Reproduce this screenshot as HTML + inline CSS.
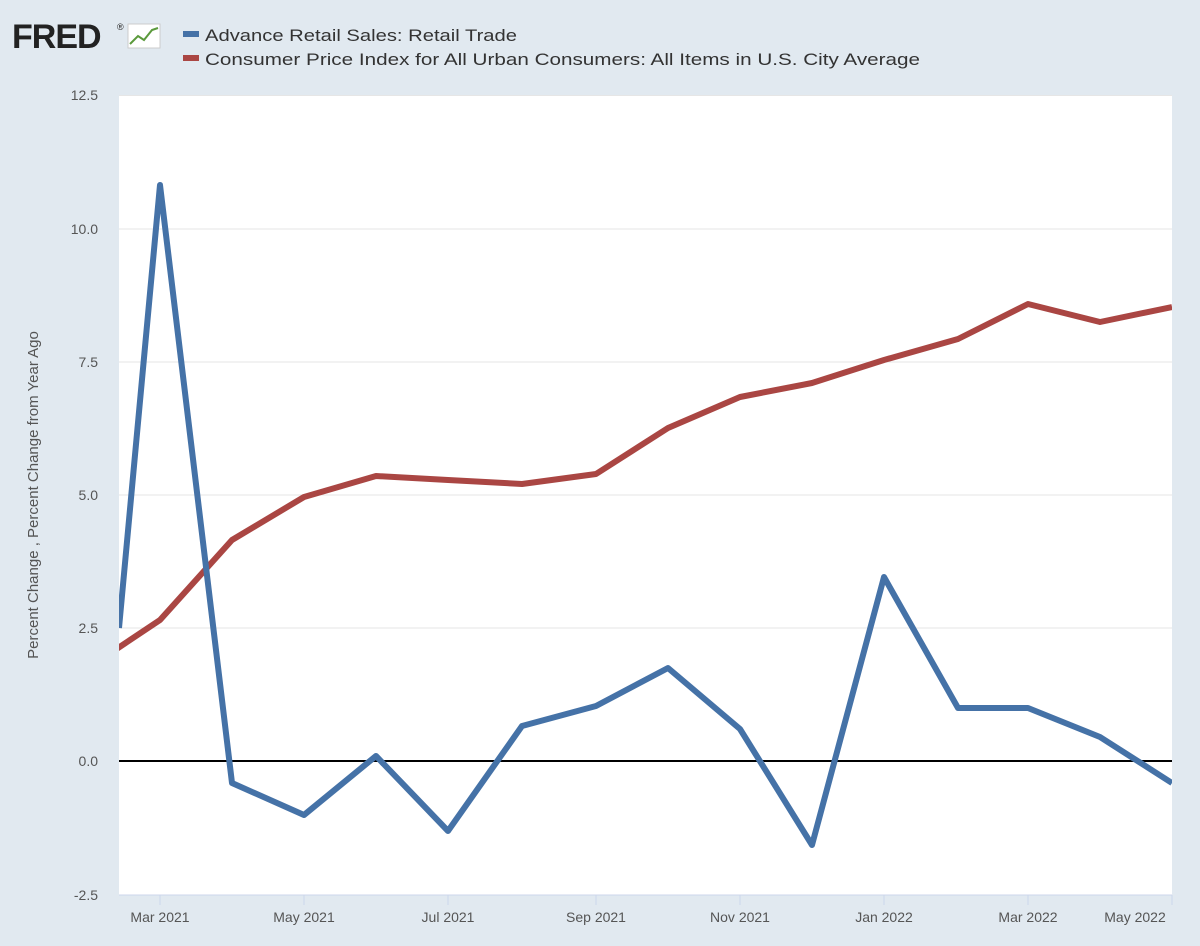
<!DOCTYPE html>
<html><head><style>
html,body{margin:0;padding:0;background:#e1e9f0;}
body{width:1200px;height:946px;overflow:hidden;position:relative;font-family:"Liberation Sans",sans-serif;}
</style></head><body>
<svg width="1200" height="946" xmlns="http://www.w3.org/2000/svg" style="position:absolute;left:0;top:0">
<rect x="0" y="0" width="1200" height="946" fill="#e1e9f0"/>
<text x="12" y="48" font-family="Liberation Sans, sans-serif" font-weight="bold" font-size="34" fill="#222" letter-spacing="-1">FRED</text>
<text x="117" y="30" font-size="9" fill="#222">®</text>
<rect x="128" y="24" width="32" height="24" fill="#fff" stroke="#ccc"/>
<polyline points="130,44 138,36 144,40 152,30 158,28" fill="none" stroke="#5b9a3c" stroke-width="2"/>
<rect x="183" y="31" width="16" height="6" fill="#4572a7"/>
<text x="205" y="41" font-size="17" fill="#333" textLength="312" lengthAdjust="spacingAndGlyphs">Advance Retail Sales: Retail Trade</text>
<rect x="183" y="55" width="16" height="6" fill="#aa4643"/>
<text x="205" y="65" font-size="17" fill="#333" textLength="715" lengthAdjust="spacingAndGlyphs">Consumer Price Index for All Urban Consumers: All Items in U.S. City Average</text>
<rect x="119" y="95" width="1053" height="800" fill="#fff"/>
<g stroke="#e6e6e6" stroke-width="1">
<line x1="119" y1="95.5" x2="1172" y2="95.5"/><line x1="119" y1="229" x2="1172" y2="229"/>
<line x1="119" y1="362" x2="1172" y2="362"/><line x1="119" y1="495" x2="1172" y2="495"/>
<line x1="119" y1="628" x2="1172" y2="628"/>
</g>
<line x1="119" y1="761" x2="1172" y2="761" stroke="#000" stroke-width="2"/>
<line x1="119" y1="895" x2="1172" y2="895" stroke="#ccd6eb" stroke-width="1"/>
<g font-size="14" fill="#555" text-anchor="end">
<text x="98" y="100">12.5</text><text x="98" y="234">10.0</text><text x="98" y="367">7.5</text>
<text x="98" y="500">5.0</text><text x="98" y="633">2.5</text><text x="98" y="766">0.0</text><text x="98" y="900">-2.5</text>
</g>
<text transform="translate(38,495) rotate(-90)" font-size="15" fill="#555" text-anchor="middle">Percent Change , Percent Change from Year Ago</text>
<g stroke="#ccd6eb"><line x1="160" y1="895" x2="160" y2="905"/><line x1="304" y1="895" x2="304" y2="905"/><line x1="448" y1="895" x2="448" y2="905"/><line x1="596" y1="895" x2="596" y2="905"/><line x1="740" y1="895" x2="740" y2="905"/><line x1="884" y1="895" x2="884" y2="905"/><line x1="1028" y1="895" x2="1028" y2="905"/><line x1="1172" y1="895" x2="1172" y2="905"/></g>
<g font-size="14" fill="#555" text-anchor="middle">
<text x="160" y="922">Mar 2021</text><text x="304" y="922">May 2021</text><text x="448" y="922">Jul 2021</text>
<text x="596" y="922">Sep 2021</text><text x="740" y="922">Nov 2021</text><text x="884" y="922">Jan 2022</text>
<text x="1028" y="922">Mar 2022</text><text x="1135" y="922">May 2022</text>
</g>
<defs><clipPath id="c"><rect x="119" y="90" width="1053" height="810"/></clipPath></defs>
<g clip-path="url(#c)" fill="none" stroke-width="6" stroke-linejoin="round">
<polyline stroke="#aa4643" points="88,668 160,620 232,540 304,497 376,476 448,480 522,484 596,474 668,428 740,397 812,383 884,360 958,339 1028,304 1100,322 1172,307"/>
<polyline stroke="#4572a7" points="119,628 160,185 232,783 304,815 376,756 448,831 522,726 596,706 668,668 740,729 812,845 884,577 958,708 1028,708 1100,737 1172,783"/>
</g>
</svg>
</body></html>
